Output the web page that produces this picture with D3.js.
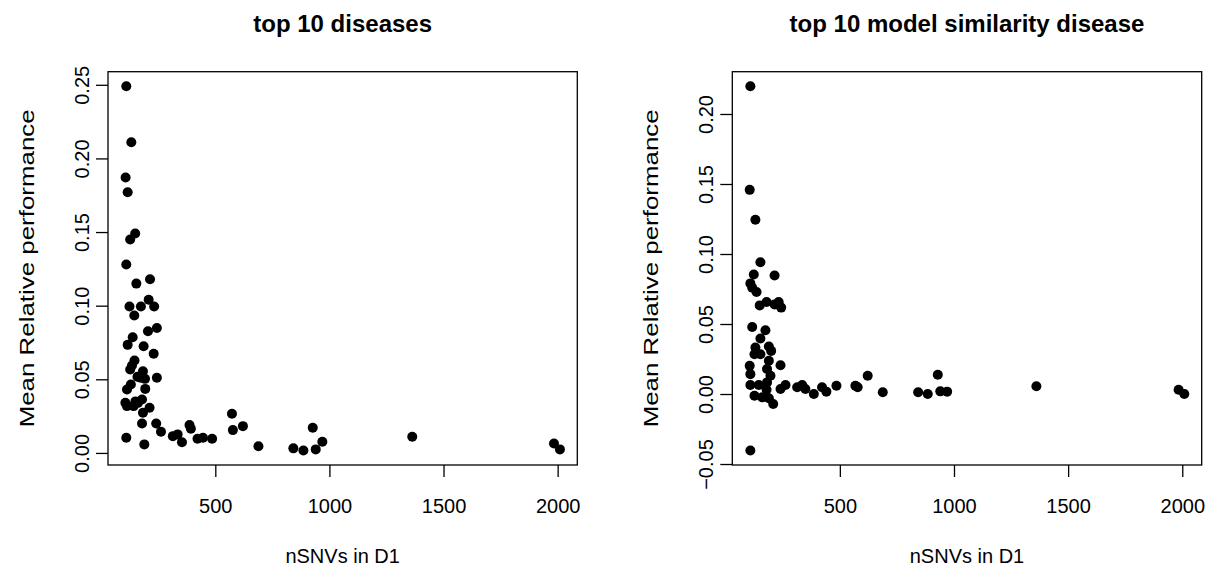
<!DOCTYPE html>
<html>
<head>
<meta charset="utf-8">
<script src="https://cdn.jsdelivr.net/npm/d3@7"></script>
<style>
  html, body { margin: 0; padding: 0; background: #fff; }
  svg { display: block; }
  text { font-family: "Liberation Sans", Arial, Helvetica, sans-serif; fill: #000; }
</style>
</head>
<body>
<svg id="chart" width="1211" height="567"></svg>
<script>
// ---- Data ----
const leftTitle = "top 10 diseases";
const rightTitle = "top 10 model similarity disease";
const xLabel = "nSNVs in D1";
const yLabel = "Mean Relative performance";

const xTicks = [500, 1000, 1500, 2000];
const yTicksLeft = [0, 0.05, 0.10, 0.15, 0.20, 0.25];
const yTicksRight = [-0.05, 0, 0.05, 0.10, 0.15, 0.20];

const leftX = [110,132,107,116,149,127,110,154,214,124,174,208,232,145,205,244,138,116,186,230,
  146,135,127,183,159,192,244,130,113,193,106,113,142,179,212,183,161,179,241,262,
  314,335,354,387,393,422,446,486,110,189,573,577,621,689,842,886,927,940,969,1363,
  1984,2010,172,150];
const leftY = [0.249,0.211,0.187,0.177,0.149,0.145,0.128,0.115,0.118,0.0994,0.0994,0.104,0.0994,0.0933,0.0826,0.0849,0.0786,0.0734,0.0725,0.0673,
  0.0628,0.0594,0.0566,0.0555,0.0517,0.0503,0.0510,0.0465,0.0431,0.0435,0.0340,0.0318,0.0318,0.0363,0.0307,0.0273,0.0340,0.0200,0.0200,0.0144,
  0.0114,0.0126,0.0073,0.0189,0.0164,0.0096,0.0103,0.0096,0.0103,0.0058,0.0266,0.0155,0.0182,0.0046,0.0031,0.0017,0.0171,0.0024,0.0076,0.0110,
  0.0064,0.0024,0.0510,0.0350];

const rightX = [108,105,130,152,123,214,108,116,135,149,179,214,232,243,116,174,152,130,189,199,
  126,152,189,240,105,108,181,196,108,145,181,179,126,160,189,208,240,262,313,335,
  349,386,422,441,485,568,578,622,688,843,885,929,940,970,1361,1984,2009,108];
const rightY = [0.2198,0.1458,0.1245,0.0941,0.0853,0.0846,0.0790,0.0759,0.0728,0.0633,0.0657,0.0640,0.0657,0.0617,0.0479,0.0455,0.0396,0.0332,0.0339,0.0308,
  0.0284,0.0284,0.0237,0.0206,0.0201,0.0142,0.0178,0.0130,0.0064,0.0064,0.0083,0.0031,-0.0012,-0.0024,-0.0030,-0.0071,0.0036,0.0064,0.0048,0.0064,
  0.0036,0.0000,0.0048,0.0017,0.0059,0.0059,0.0048,0.0130,0.0012,0.0012,0.0000,0.0137,0.0019,0.0017,0.0055,0.0030,0.0000,-0.0403];

// ---- Drawing ----
const svg = d3.select("#chart");

function rRange(vals) {
  const [lo, hi] = d3.extent(vals);
  const pad = (hi - lo) * 0.04;
  return [lo - pad, hi + pad];
}

function fmtY(v) {
  const s = Math.abs(v).toFixed(2);
  return v < -1e-9 ? "\u2212" + s : s;
}

function panel(opts) {
  const { x0, x1, y0, y1, xs, ys, yTicks, title } = opts;
  const g = svg.append("g");
  const x = d3.scaleLinear().domain(rRange(xs)).range([x0, x1]);
  const y = d3.scaleLinear().domain(rRange(ys)).range([y1, y0]);

  // points
  g.append("g").selectAll("circle")
    .data(xs.map((v, i) => [v, ys[i]]))
    .join("circle")
    .attr("cx", d => x(d[0]))
    .attr("cy", d => y(d[1]))
    .attr("r", 5)
    .attr("fill", "#000");

  // box
  g.append("rect")
    .attr("x", x0).attr("y", y0)
    .attr("width", x1 - x0).attr("height", y1 - y0)
    .attr("fill", "none").attr("stroke", "#000").attr("stroke-width", 1.3);

  // x axis
  const xAxis = d3.axisBottom(x).tickValues(xTicks).tickSize(12).tickFormat(d3.format("d"));
  const gx = g.append("g").attr("transform", `translate(0,${y1})`).call(xAxis);
  gx.select(".domain").remove();
  gx.selectAll(".tick line").attr("stroke", "#000").attr("stroke-width", 1.3);
  gx.selectAll(".tick text")
    .attr("y", 48).attr("dy", null)
    .attr("font-size", 20)
    .attr("font-family", "Liberation Sans, Arial, sans-serif")
    .attr("fill", "#000");

  // y axis
  const yAxis = d3.axisLeft(y).tickValues(yTicks).tickSize(12).tickFormat(fmtY);
  const gy = g.append("g").attr("transform", `translate(${x0},0)`).call(yAxis);
  gy.select(".domain").remove();
  gy.selectAll(".tick line").attr("stroke", "#000").attr("stroke-width", 1.3);
  gy.selectAll(".tick text")
    .attr("x", null).attr("dy", null)
    .attr("transform", "translate(-19,0) rotate(-90)")
    .attr("text-anchor", "middle")
    .attr("font-size", 20)
    .attr("font-family", "Liberation Sans, Arial, sans-serif")
    .attr("fill", "#000");

  const cx = (x0 + x1) / 2, cy = (y0 + y1) / 2;
  // title
  g.append("text")
    .attr("x", cx).attr("y", 32)
    .attr("text-anchor", "middle")
    .attr("font-size", 24).attr("font-weight", "bold")
    .text(title);
  // x label
  g.append("text")
    .attr("x", cx).attr("y", 563)
    .attr("text-anchor", "middle")
    .attr("font-size", 20)
    .text(xLabel);
  // y label
  g.append("text")
    .attr("transform", `translate(${x0 - 74},${cy}) rotate(-90)`)
    .attr("text-anchor", "middle")
    .attr("font-size", 21)
    .attr("textLength", 318)
    .attr("lengthAdjust", "spacingAndGlyphs")
    .text(yLabel);
}

panel({ x0: 108, x1: 577.3, y0: 71.7, y1: 465, xs: leftX, ys: leftY, yTicks: yTicksLeft, title: leftTitle });
panel({ x0: 732.3, x1: 1201.7, y0: 71.7, y1: 465, xs: rightX, ys: rightY, yTicks: yTicksRight, title: rightTitle });
</script>
</body>
</html>
